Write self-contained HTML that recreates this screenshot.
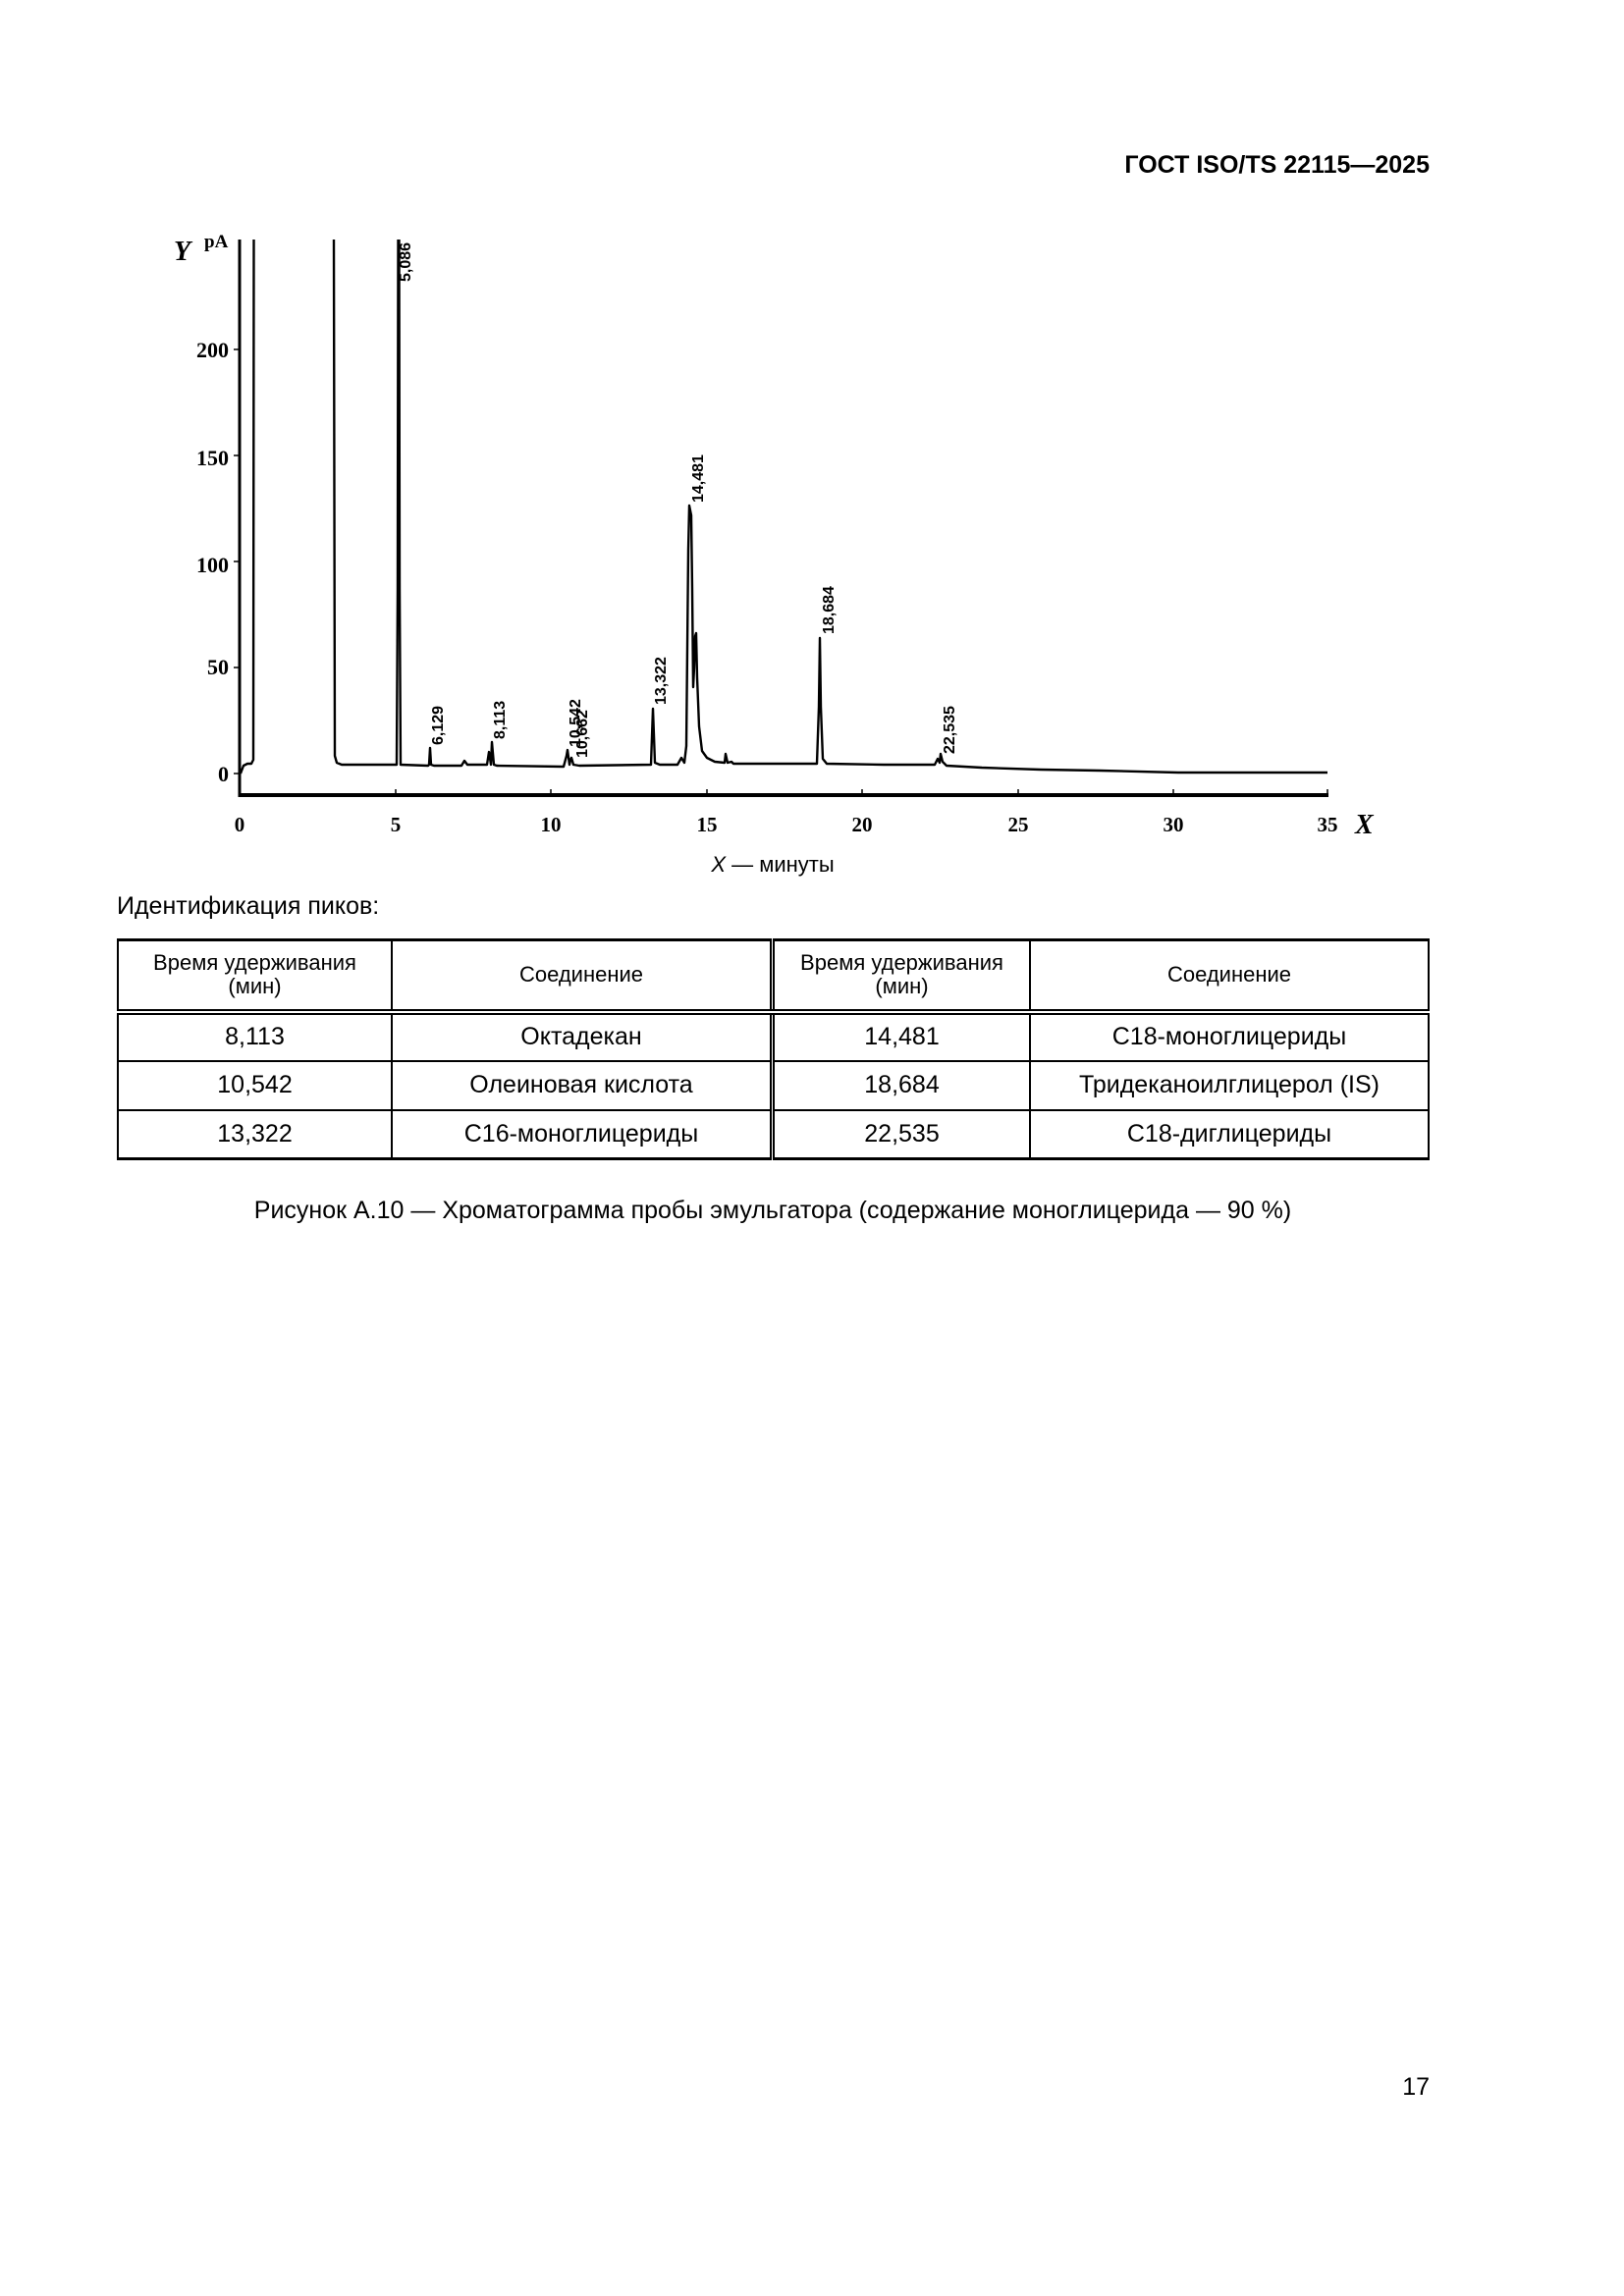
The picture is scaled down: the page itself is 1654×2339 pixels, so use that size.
<!DOCTYPE html>
<html><head><meta charset="utf-8"><style>
html,body{margin:0;padding:0;background:#fff}
body{width:1654px;height:2339px;position:relative;font-family:"Liberation Sans",sans-serif;color:#000}
.a{position:absolute;white-space:nowrap}
table{position:absolute;left:119px;top:956px;width:1337px;border-collapse:collapse;font-size:25px}
td{border:2px solid #000;text-align:center;padding:0}
</style></head><body>
<div class="a" style="right:198px;top:154px;font-size:25px;font-weight:bold">ГОСТ ISO/TS 22115—2025</div>

<svg class="a" style="left:0;top:0" width="1654" height="920" viewBox="0 0 1654 920">
<defs><clipPath id="c"><rect x="0" y="244" width="1654" height="700"/></clipPath></defs>
<g font-family="Liberation Serif,serif" font-weight="bold" font-size="22" text-anchor="end">
<text x="233" y="796">0</text><text x="233" y="687">50</text><text x="233" y="583">100</text><text x="233" y="474">150</text><text x="233" y="364">200</text>
</g>
<text x="177" y="265" font-family="Liberation Serif,serif" font-weight="bold" font-style="italic" font-size="28">Y</text>
<text x="208" y="252" font-family="Liberation Serif,serif" font-weight="bold" font-size="19">pA</text>
<g font-family="Liberation Serif,serif" font-weight="bold" font-size="21" text-anchor="middle">
<text x="244" y="847">0</text><text x="403" y="847">5</text><text x="561" y="847">10</text><text x="720" y="847">15</text><text x="878" y="847">20</text><text x="1037" y="847">25</text><text x="1195" y="847">30</text><text x="1352" y="847">35</text>
</g>
<text x="1380" y="849" font-family="Liberation Serif,serif" font-weight="bold" font-style="italic" font-size="28">X</text>
<text x="787" y="888" text-anchor="middle" font-size="22"><tspan font-style="italic">X</tspan> — минуты</text>
<line x1="244" y1="244" x2="244" y2="812" stroke="#000" stroke-width="3"/>
<line x1="243" y1="810" x2="1353" y2="810" stroke="#000" stroke-width="4"/>
<g stroke="#000" stroke-width="1.5">
<line x1="238" y1="788" x2="244" y2="788"/><line x1="238" y1="680" x2="244" y2="680"/><line x1="238" y1="572" x2="244" y2="572"/><line x1="238" y1="464" x2="244" y2="464"/><line x1="238" y1="356" x2="244" y2="356"/>
<line x1="403" y1="804" x2="403" y2="810"/><line x1="561" y1="804" x2="561" y2="810"/><line x1="720" y1="804" x2="720" y2="810"/><line x1="878" y1="804" x2="878" y2="810"/><line x1="1037" y1="804" x2="1037" y2="810"/><line x1="1195" y1="804" x2="1195" y2="810"/><line x1="1352" y1="804" x2="1352" y2="810"/>
</g>
<g fill="none" stroke="#000" stroke-width="2.4" stroke-linejoin="round">
<path d="M245,788 L248,780 L252,778 L256,778 L258,774 L258.5,244"/>
<path d="M340,244 L341,770 L343,777 L348,779 L400,779 L404,779 L405,600 L405.5,244 M406.5,244 L407,600 L408,779 L436,780 L437,779 L438,762 L439,779 L442,780 L470,780 L473,775 L476,779 L496,779 L498,766 L500,779 L501,756 L503,779 L506,780 L574,781 L577,770 L578,764 L580,779 L581,774 L582,772 L584,779 L590,780 L663,779 L665,722 L667,777 L672,779 L690,779 L694,772 L697,777 L699,760 L701,560 L702,515 L704,525 L705,600 L706,700 L707,680 L708,648 L709,645 L710,690 L712,740 L715,765 L720,772 L728,776 L738,777 L739,768 L741,777 L745,776 L747,778 L790,778 L832,778 L834,720 L835,650 L836,720 L838,773 L842,778 L900,779 L952,779 L955,773 L957,777 L958,768 L960,776 L964,780 L1000,782 L1060,784 L1120,785 L1200,787 L1352,787"/>
</g>
<g font-family="Liberation Sans,sans-serif" font-weight="bold" font-size="16">
<g clip-path="url(#c)"><text transform="translate(418,287) rotate(-90)">5,086</text></g>
<text transform="translate(451,759) rotate(-90)">6,129</text>
<text transform="translate(514,753) rotate(-90)">8,113</text>
<text transform="translate(591,761) rotate(-90)">10,542</text>
<text transform="translate(598,772) rotate(-90)">10,662</text>
<text transform="translate(678,718) rotate(-90)">13,322</text>
<text transform="translate(716,512) rotate(-90)">14,481</text>
<text transform="translate(849,646) rotate(-90)">18,684</text>
<text transform="translate(972,768) rotate(-90)">22,535</text>
</g>
</svg>

<div class="a" style="left:119px;top:909px;font-size:25px">Идентификация пиков:</div>
<table>
<tr style="height:73px;font-size:22px;line-height:24px;border-top:3px solid #000"><td style="width:277px;border-bottom:6px double #000">Время удерживания<br>(мин)</td><td style="width:384px;border-bottom:6px double #000;border-right:5px double #000">Соединение</td><td style="width:259px;border-bottom:6px double #000">Время удерживания<br>(мин)</td><td style="border-bottom:6px double #000">Соединение</td></tr>
<tr style="height:50px"><td>8,113</td><td style="border-right:5px double #000">Октадекан</td><td>14,481</td><td>C18-моноглицериды</td></tr>
<tr style="height:50px"><td>10,542</td><td style="border-right:5px double #000">Олеиновая кислота</td><td>18,684</td><td>Тридеканоилглицерол (IS)</td></tr>
<tr style="height:50px;border-bottom:3px solid #000"><td>13,322</td><td style="border-right:5px double #000">C16-моноглицериды</td><td>22,535</td><td>C18-диглицериды</td></tr>
</table>
<div class="a" style="left:0;width:1574px;text-align:center;top:1219px;font-size:25px">Рисунок А.10 — Хроматограмма пробы эмульгатора (содержание моноглицерида — 90 %)</div>
<div class="a" style="right:198px;top:2112px;font-size:25px">17</div>
</body></html>
